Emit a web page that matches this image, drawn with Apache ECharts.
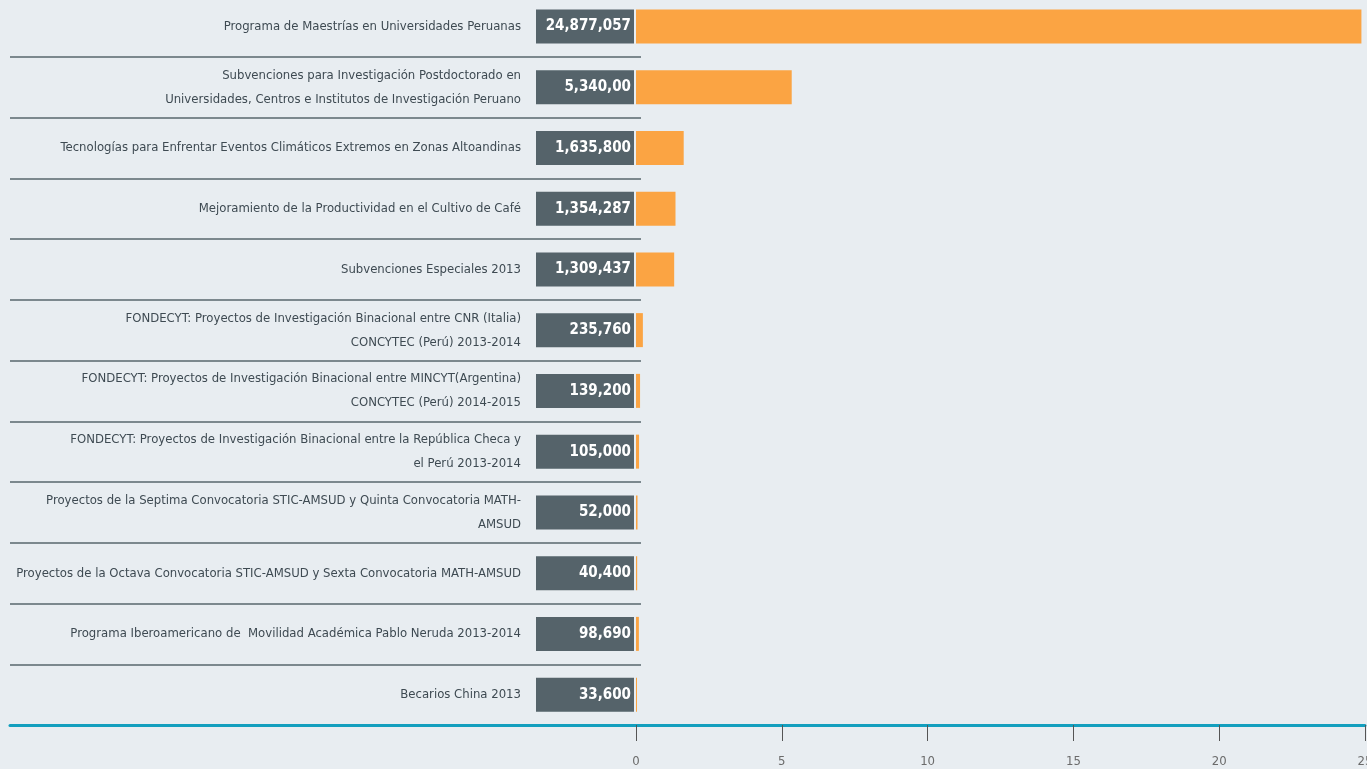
<!DOCTYPE html>
<html>
<head>
<meta charset="utf-8">
<script src="https://cdn.jsdelivr.net/npm/echarts@6/dist/echarts.min.js"></script>
<style>
html, body { margin: 0; padding: 0; background: #e8edf1; }
#chart { width: 1367px; height: 769px; }
</style>
</head>
<body>
<div id="chart"></div>
<script>
// proyectos / programas
var categories = [
  'Programa de Maestrías en Universidades Peruanas',
  'Subvenciones para Investigación Postdoctorado en\nUniversidades, Centros e Institutos de Investigación Peruano',
  'Tecnologías para Enfrentar Eventos Climáticos Extremos en Zonas Altoandinas',
  'Mejoramiento de la Productividad en el Cultivo de Café',
  'Subvenciones Especiales 2013',
  'FONDECYT: Proyectos de Investigación Binacional entre CNR (Italia)\nCONCYTEC (Perú) 2013-2014',
  'FONDECYT: Proyectos de Investigación Binacional entre MINCYT(Argentina)\nCONCYTEC (Perú) 2014-2015',
  'FONDECYT: Proyectos de Investigación Binacional entre la República Checa y\nel Perú 2013-2014',
  'Proyectos de la Septima Convocatoria STIC-AMSUD y Quinta Convocatoria MATH-\nAMSUD',
  'Proyectos de la Octava Convocatoria STIC-AMSUD y Sexta Convocatoria MATH-AMSUD',
  'Programa Iberoamericano de  Movilidad Académica Pablo Neruda 2013-2014',
  'Becarios China 2013'
];
// montos
var amounts = [24877057, 5340000, 1635800, 1354287, 1309437, 235760, 139200, 105000, 52000, 40400, 98690, 33600];
// texto de las cajas (tal como aparece)
var amountLabels = ['24,877,057', '5,340,00', '1,635,800', '1,354,287', '1,309,437', '235,760', '139,200', '105,000', '52,000', '40,400', '98,690', '33,600'];
// eje en millones
var axisMax = 25000000;
var axisStep = 5000000;

var font = '"Liberation Sans Narrow", "DejaVu Sans Condensed", sans-serif';

var myChart = echarts.init(document.getElementById('chart'));
var option = {
  backgroundColor: '#e8edf1',
  animation: false,
  grid: [
    { left: 636, right: 2, top: -4, bottom: 44, containLabel: false, outerBoundsMode: 'none' },
    { left: 10, width: 631, top: -4, bottom: 44, containLabel: false, outerBoundsMode: 'none' }
  ],
  xAxis: [
    {
      type: 'value',
      gridIndex: 0,
      min: 0,
      max: axisMax,
      interval: axisStep,
      axisLine: { show: true, lineStyle: { color: '#139fbe', width: 3 } },
      axisTick: { show: true, inside: false, length: 16, lineStyle: { color: '#555', width: 1 } },
      axisLabel: {
        margin: 30,
        color: '#6b6b6b',
        fontSize: 13,
        fontFamily: font,
        formatter: function (v) { return v / 1000000; }
      },
      splitLine: { show: false }
    },
    {
      type: 'value',
      gridIndex: 1,
      min: 0,
      max: 1,
      axisLine: { show: true, lineStyle: { color: '#139fbe', width: 3 } },
      axisTick: { show: false },
      axisLabel: { show: false },
      splitLine: { show: false }
    }
  ],
  yAxis: [
    {
      type: 'category',
      gridIndex: 0,
      inverse: true,
      data: categories,
      axisLine: { show: false },
      axisTick: { show: false },
      axisLabel: {
        margin: 115,
        color: '#3e4a52',
        fontSize: 13,
        lineHeight: 24,
        fontFamily: font,
        align: 'right'
      }
    },
    {
      type: 'category',
      gridIndex: 1,
      inverse: true,
      data: categories,
      axisLine: { show: false },
      axisTick: { show: false },
      axisLabel: { show: false },
      splitLine: { show: true, lineStyle: { color: '#59666d', width: 1.5 } }
    }
  ],
  series: [
    {
      type: 'bar',
      xAxisIndex: 0,
      yAxisIndex: 0,
      data: amounts,
      barWidth: 34,
      barMinHeight: 1,
      itemStyle: { color: '#fba443' },
      label: {
        show: true,
        position: 'left',
        distance: 2,
        formatter: function (p) { return amountLabels[p.dataIndex]; },
        backgroundColor: '#55636a',
        color: '#fff',
        fontWeight: 'bold',
        fontSize: 15,
        fontFamily: font,
        width: 95,
        height: 34,
        lineHeight: 34,
        align: 'right',
        verticalAlign: 'middle',
        padding: [0, 3, 0, 0]
      }
    }
  ]
};
myChart.setOption(option);
</script>
</body>
</html>
